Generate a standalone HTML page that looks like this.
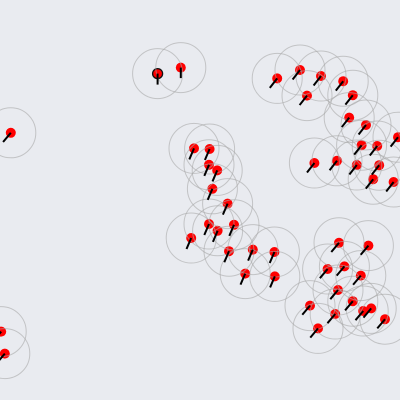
<!DOCTYPE html>
<html>
<head>
<meta charset="utf-8">
<title>Wind stations map</title>
<style>
html,body{margin:0;padding:0;background:#e9ebf0;}
svg{display:block;}
</style>
</head>
<body>
<svg id="chart" width="400" height="400" viewBox="0 0 400 400" xmlns="http://www.w3.org/2000/svg">
<rect x="0" y="0" width="400" height="400" fill="#e9ebf0"/>
<g id="dots"></g>
<g id="rings"></g>
<g id="winds"></g>
</svg>
<script>
const lon = [39.4,45.2, 69.3,75,80.25,85.8,76.75,88.2,87.3,91.5,99.5,90.4,94.3,78.6,84.25,89.2,94.8,93.3,98.4,
48.5,52.4,52.25,54.3,53.1,56.9,52.25,54.4,58.5,47.8,57.25,63.2,68.6,61.3,68.7,
84.75,92.1,81.9,86.1,90.2,84.5,88.2,77.5,90.8,92.8,83.8,96.25,79.5,
0.3,1.2,2.7];
const lat = [81.6,83.1, 80.4,82.5,81,79.7,76.1,76.2,70.6,68.75,65.7,63.7,63.5,59.25,59.8,58.75,58.7,55.2,54.5,
62.9,62.75,58.8,57.4,52.8,49.1,44,42.3,43.8,40.5,37.2,37.6,37,31.6,30.9,
39.3,38.6,32.75,33.4,31.1,27.5,24.7,23.6,22.25,22.9,21.5,20.2,17.9,
17.1,11.6,66.8];
const windDir = [180,180, 218,218,218,218,218,218,218,218,218,218,218,218,218,218,218,218,218,
203,203,203,203,203,203,203,203,203,203,203,203,203,203,203,
220,220,220,220,220,220,220,220,220,220,220,220,220,
220,220,220];
const windSpeed = [11,10.5, 12,12,12,12,12,12,12,12,12,12,12,12,12,12,12,12,12,
12,12,12,12,12,12,12,12,12,12,12,12,12,12,12,
12,12,12,12,12,12,12,12,12,12,12,12,12,
12,12,12];
const selectedStations = [0];

const ringRadius = 25;
const dotRadius = 5;
function xAxis(v){ return v * 4; }
function yAxis(v){ return 400 - v * 4; }
function lengthAxis(v){ return v * 1; }

const NS = 'http://www.w3.org/2000/svg';
const winds = document.getElementById('winds');
const dots = document.getElementById('dots');
const rings = document.getElementById('rings');

lon.forEach(function(value, i){
  const cx = xAxis(value);
  const cy = yAxis(lat[i]);
  const rad = windDir[i] * Math.PI / 180;
  const len = lengthAxis(windSpeed[i]);

  const dot = document.createElementNS(NS, 'circle');
  
  
  dot.setAttribute('cx', cx);
  dot.setAttribute('cy', cy);
  dot.setAttribute('r', dotRadius);
  dot.setAttribute('fill', '#ff0000');
  if (selectedStations.indexOf(i) !== -1) {
    dot.setAttribute('stroke', '#111111');
    dot.setAttribute('stroke-width', '1.3');
  }
  dots.appendChild(dot);

  const ring = document.createElementNS(NS, 'circle');
  
  
  ring.setAttribute('cx', cx);
  ring.setAttribute('cy', cy);
  ring.setAttribute('r', ringRadius);
  ring.setAttribute('fill', 'none');
  ring.setAttribute('stroke', '#a8a8a8');
  ring.setAttribute('stroke-opacity', '0.6');
  ring.setAttribute('stroke-width', '1');
  rings.appendChild(ring);

  const line = document.createElementNS(NS, 'line');
  
  
  line.setAttribute('x1', cx);
  line.setAttribute('y1', cy);
  line.setAttribute('x2', cx + Math.sin(rad) * len);
  line.setAttribute('y2', cy - Math.cos(rad) * len);
  line.setAttribute('stroke', '#000000');
  line.setAttribute('stroke-width', '2');
  winds.appendChild(line);
});
</script>
</body>
</html>
